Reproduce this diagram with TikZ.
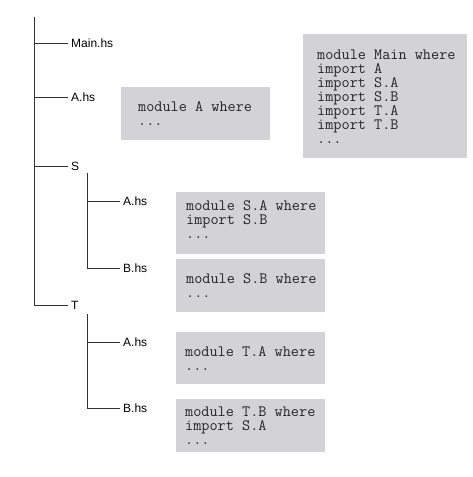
\documentclass[tikz,border=0pt]{standalone}
\usepackage{fontspec}
\setmainfont{Liberation Sans}
\definecolor{boxgray}{RGB}{211,211,213}
\definecolor{linegray}{RGB}{50,50,50}
\begin{document}
\begin{tikzpicture}[x=1pt,y=-1pt,
  treeline/.style={draw=linegray, line width=0.9pt},
  lbl/.style={font=\fontsize{12}{14}\selectfont, anchor=base west, inner sep=0pt},
  codebox/.style={fill=boxgray, draw=none, anchor=north west, inner sep=0pt},
  code/.style={font=\ttfamily\fontsize{15.8}{14}\selectfont, anchor=west, align=left, inner sep=0pt, text=black!85}]
\useasboundingbox (0,0) rectangle (473,477);
% tree coordinates
\coordinate (top) at (34,17);
\coordinate (jMain) at (34,43);
\coordinate (eMain) at (68,43);
\coordinate (jA) at (34,97);
\coordinate (eA) at (68,97);
\coordinate (jS) at (34,166);
\coordinate (eS) at (68,166);
\coordinate (eT) at (68,305);
\coordinate (sTop) at (87,173);
\coordinate (jSA) at (87,201);
\coordinate (eSA) at (120,201);
\coordinate (eSB) at (120,268);
\coordinate (tTop) at (87,314);
\coordinate (jTA) at (87,342);
\coordinate (eTA) at (120,342);
\coordinate (eTB) at (120,408);
% labels
\node[lbl] (lMain) at (71,47) {Main.hs};
\node[lbl] (lA) at (71,101) {A.hs};
\node[lbl] (lS) at (71,170) {S};
\node[lbl] (lT) at (71,309) {T};
\node[lbl] (lSA) at (123,205) {A.hs};
\node[lbl] (lSB) at (123,272) {B.hs};
\node[lbl] (lTA) at (123,346) {A.hs};
\node[lbl] (lTB) at (123,412) {B.hs};
% tree lines
\draw[treeline] (top) |- (eT);
\draw[treeline] (jMain) -- (eMain);
\draw[treeline] (jA) -- (eA);
\draw[treeline] (jS) -- (eS);
\draw[treeline] (sTop) |- (eSB);
\draw[treeline] (jSA) -- (eSA);
\draw[treeline] (tTop) |- (eTB);
\draw[treeline] (jTA) -- (eTA);
% boxes
\node[codebox, minimum width=164pt, minimum height=124pt] (bMain) at (303,34) {};
\node[codebox, minimum width=149pt, minimum height=53pt] (bA) at (121,87) {};
\node[codebox, minimum width=149pt, minimum height=62pt] (bSA) at (176,192) {};
\node[codebox, minimum width=149pt, minimum height=53pt] (bSB) at (176,259) {};
\node[codebox, minimum width=149pt, minimum height=52pt] (bTA) at (176,332) {};
\node[codebox, minimum width=149pt, minimum height=53pt] (bTB) at (176,399) {};
% code texts
\node[code] (tMain) at ([xshift=14pt]bMain.west) {module Main where\\import A\\import S.A\\import S.B\\import T.A\\import T.B\\...};
\node[code] (tA) at ([xshift=17pt]bA.west) {module A where\\...};
\node[code] (tSA) at ([xshift=10pt,yshift=4pt]bSA.west) {module S.A where\\import S.B\\...};
\node[code] (tSB) at ([xshift=10pt]bSB.west) {module S.B where\\...};
\node[code] (tTA) at ([xshift=9pt]bTA.west) {module T.A where\\...};
\node[code] (tTB) at ([xshift=9pt]bTB.west) {module T.B where\\import S.A\\...};
\end{tikzpicture}
\end{document}
